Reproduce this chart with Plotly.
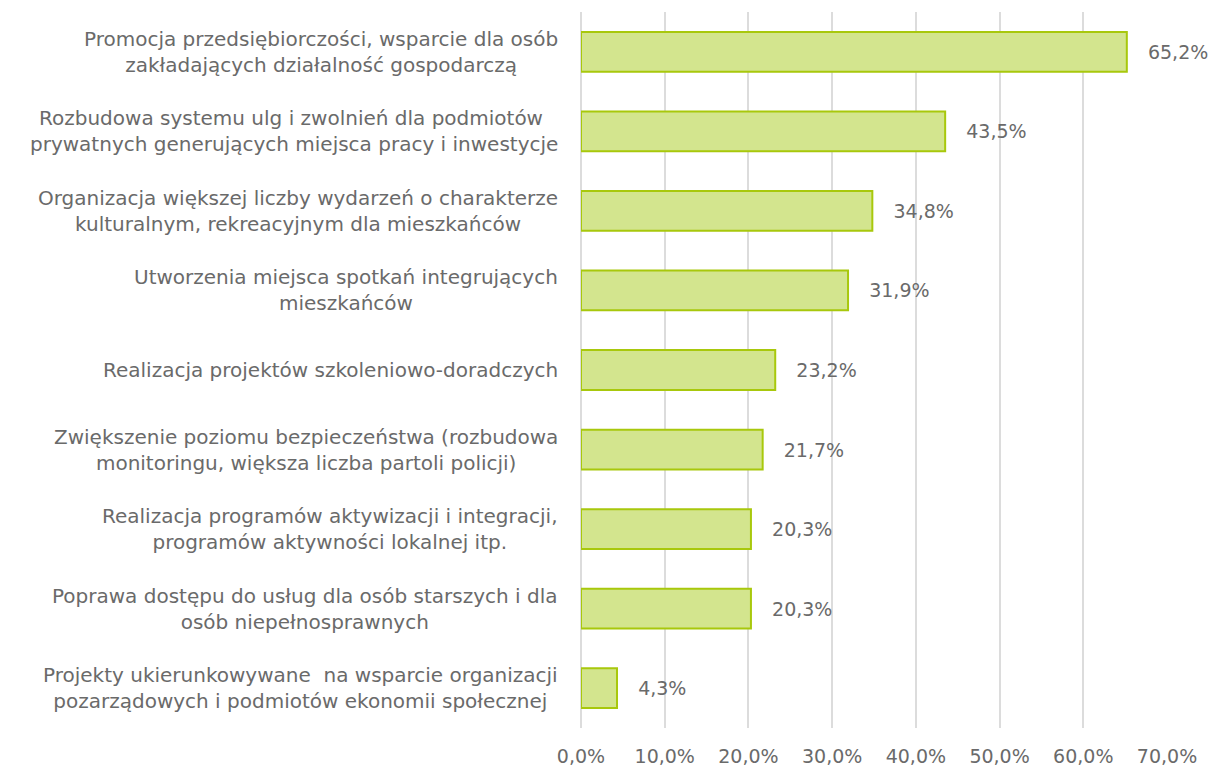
import plotly.graph_objects as go

categories = [
    "Promocja przedsiębiorczości, wsparcie dla osób<br>zakładających działalność gospodarczą",
    "Rozbudowa systemu ulg i zwolnień dla podmiotów <br>prywatnych generujących miejsca pracy i inwestycje",
    "Organizacja większej liczby wydarzeń o charakterze<br>kulturalnym, rekreacyjnym dla mieszkańców",
    "Utworzenia miejsca spotkań integrujących<br>mieszkańców",
    "Realizacja projektów szkoleniowo-doradczych",
    "Zwiększenie poziomu bezpieczeństwa (rozbudowa<br>monitoringu, większa liczba partoli policji)",
    "Realizacja programów aktywizacji i integracji,<br>programów aktywności lokalnej itp.",
    "Poprawa dostępu do usług dla osób starszych i dla<br>osób niepełnosprawnych",
    "Projekty ukierunkowywane  na wsparcie organizacji<br>pozarządowych i podmiotów ekonomii społecznej",
]
values = [65.2, 43.5, 34.8, 31.9, 23.2, 21.7, 20.3, 20.3, 4.3]
tick_values = [0, 10, 20, 30, 40, 50, 60, 70]
tick_labels = ["0,0%", "10,0%", "20,0%", "30,0%", "40,0%", "50,0%", "60,0%", "70,0%"]

FONT = "DejaVu Sans"
TEXT_COLOR = "#6a6a6a"

value_text = ["   " + f"{v:.1f}".replace(".", ",") + "%" for v in values]
ids = list(range(len(categories)))

fig = go.Figure()
fig.add_trace(go.Bar(
    x=values,
    y=ids,
    orientation="h",
    width=0.5,
    marker=dict(color="#d3e58e", line=dict(color="#a8c80c", width=2)),
    text=value_text,
    textposition="outside",
    textfont=dict(family=FONT, size=19, color=TEXT_COLOR),
    cliponaxis=False,
    hoverinfo="skip",
))

# category labels: each block right-aligned to the axis, lines centred within it
for i, cat in enumerate(categories):
    fig.add_annotation(
        x=-0.036, xref="paper", xanchor="right",
        y=i, yref="y", yanchor="middle",
        text=cat, showarrow=False, align="center",
        font=dict(family=FONT, size=20, color=TEXT_COLOR),
    )

fig.update_layout(
    width=1210, height=769,
    margin=dict(l=581, r=43, t=12, b=41, autoexpand=False),
    paper_bgcolor="white", plot_bgcolor="white",
    showlegend=False,
    bargap=0.5,
)
fig.update_xaxes(
    range=[0, 70],
    tickvals=tick_values, ticktext=tick_labels,
    showgrid=True, gridcolor="#dcdcdc", gridwidth=2,
    zeroline=True, zerolinecolor="#dcdcdc", zerolinewidth=2,
    showline=False, ticks="",
    tickfont=dict(family=FONT, size=19, color=TEXT_COLOR),
    ticklabelstandoff=15,
    automargin=False,
)
fig.update_yaxes(
    range=[len(categories) - 0.5, -0.5],
    showticklabels=False, showgrid=False, zeroline=False, ticks="",
    automargin=False,
)

fig.write_html("out.html")
